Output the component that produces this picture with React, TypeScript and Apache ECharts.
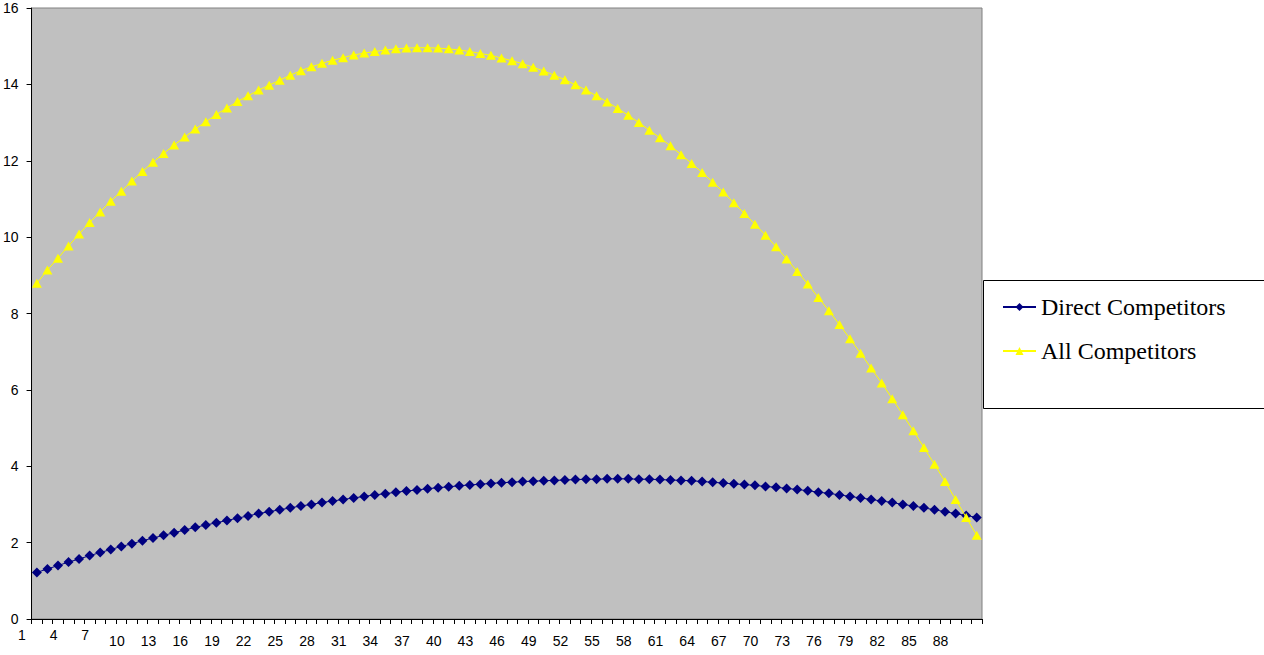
import React, { useEffect, useRef } from "react";
import * as echarts from "echarts";

const categories: string[] = Array.from({ length: 90 }, (_, i) => String(i + 1));

const directCompetitors: number[] = [
  1.22, 1.31, 1.40, 1.49, 1.57, 1.66, 1.74, 1.82, 1.90, 1.97,
  2.05, 2.12, 2.19, 2.26, 2.33, 2.40, 2.46, 2.52, 2.58, 2.64,
  2.70, 2.76, 2.81, 2.86, 2.91, 2.96, 3.00, 3.05, 3.09, 3.13,
  3.17, 3.21, 3.25, 3.28, 3.32, 3.35, 3.38, 3.41, 3.44, 3.46,
  3.49, 3.51, 3.53, 3.55, 3.57, 3.58, 3.60, 3.61, 3.62, 3.63,
  3.64, 3.65, 3.66, 3.66, 3.67, 3.67, 3.67, 3.66, 3.66, 3.65,
  3.64, 3.63, 3.62, 3.60, 3.58, 3.56, 3.54, 3.52, 3.50, 3.47,
  3.45, 3.42, 3.39, 3.36, 3.32, 3.29, 3.25, 3.21, 3.17, 3.13,
  3.09, 3.05, 3.00, 2.96, 2.91, 2.86, 2.81, 2.76, 2.71, 2.66,
];

const allCompetitors: number[] = [
  8.79, 9.14, 9.45, 9.77, 10.08, 10.38, 10.66, 10.94, 11.20, 11.47,
  11.72, 11.96, 12.19, 12.41, 12.62, 12.83, 13.02, 13.21, 13.38, 13.55,
  13.70, 13.85, 13.98, 14.11, 14.24, 14.36, 14.46, 14.55, 14.63, 14.70,
  14.77, 14.82, 14.86, 14.90, 14.93, 14.95, 14.96, 14.96, 14.95, 14.93,
  14.90, 14.86, 14.81, 14.76, 14.69, 14.62, 14.54, 14.45, 14.35, 14.24,
  14.12, 13.99, 13.85, 13.70, 13.54, 13.37, 13.19, 13.00, 12.80, 12.60,
  12.39, 12.16, 11.93, 11.69, 11.44, 11.18, 10.90, 10.62, 10.34, 10.05,
  9.75, 9.43, 9.10, 8.77, 8.42, 8.07, 7.71, 7.34, 6.96, 6.57,
  6.18, 5.77, 5.35, 4.93, 4.49, 4.05, 3.60, 3.13, 2.66, 2.19,
];

const seriesNames = ["Direct Competitors", "All Competitors"];

export default function App() {
  const ref = useRef<HTMLDivElement>(null);

  useEffect(() => {
    if (!ref.current) return;
    const chart = echarts.init(ref.current, null, { renderer: "svg" });
    const axisFont = "Arial, 'Liberation Sans', sans-serif";
    chart.setOption({
      animation: false,
      backgroundColor: "#ffffff",
      grid: {
        left: 31,
        top: 8,
        width: 951,
        height: 611,
        show: true,
        backgroundColor: "#C0C0C0",
        borderColor: "#808080",
        borderWidth: 1,
      },
      graphic: [
        {
          type: "rect",
          z: 0,
          shape: { x: 983.5, y: 280.5, width: 300, height: 128 },
          style: { fill: "#ffffff", stroke: "#000000", lineWidth: 1 },
        },
      ],
      legend: {
        orient: "vertical",
        left: 1002,
        top: 295,
        padding: 0,
        z: 10,
        itemWidth: 33,
        itemHeight: 10,
        itemGap: 20,
        data: seriesNames,
        textStyle: {
          fontFamily: "'Times New Roman', 'Liberation Serif', serif",
          fontSize: 24,
          lineHeight: 24,
          color: "#000000",
        },
      },
      xAxis: {
        type: "category",
        data: categories,
        boundaryGap: true,
        axisLine: { show: true, lineStyle: { color: "#000000", width: 1 } },
        axisTick: {
          show: true,
          interval: 0,
          length: 5,
          lineStyle: { color: "#000000" },
        },
        axisLabel: {
          interval: 2,
          margin: 9,
          color: "#000000",
          fontFamily: axisFont,
          fontSize: 14,
          formatter: (v: string) => (v.length === 1 ? `{a|${v}}` : `{b|${v}}`),
          rich: {
            a: {
              fontFamily: axisFont,
              fontSize: 14,
              color: "#000000",
              padding: [0, 30, 0, 0],
            },
            b: {
              fontFamily: axisFont,
              fontSize: 14,
              color: "#000000",
              padding: [6, 30, 0, 0],
            },
          },
        },
        splitLine: { show: false },
      },
      yAxis: {
        type: "value",
        min: 0,
        max: 16,
        interval: 2,
        axisLine: { show: true, lineStyle: { color: "#000000", width: 1 } },
        axisTick: { show: true, length: 5, lineStyle: { color: "#000000" } },
        axisLabel: {
          margin: 13,
          color: "#000000",
          fontFamily: axisFont,
          fontSize: 14,
        },
        splitLine: { show: false },
      },
      series: [
        {
          name: seriesNames[0],
          type: "line",
          data: directCompetitors,
          symbol: "diamond",
          symbolSize: 10,
          showAllSymbol: true,
          color: "#000080",
          lineStyle: { color: "#000080", width: 1 },
          itemStyle: { color: "#000080" },
          z: 2,
        },
        {
          name: seriesNames[1],
          type: "line",
          data: allCompetitors,
          symbol: "triangle",
          symbolSize: [10, 9],
          showAllSymbol: true,
          color: "#FFFF00",
          lineStyle: { color: "#FFFF00", width: 1 },
          itemStyle: { color: "#FFFF00" },
          z: 3,
        },
      ],
    });
    return () => chart.dispose();
  }, []);

  return (
    <div
      ref={ref}
      style={{ position: "absolute", left: 0, top: 0, width: 1264, height: 655 }}
    />
  );
}
